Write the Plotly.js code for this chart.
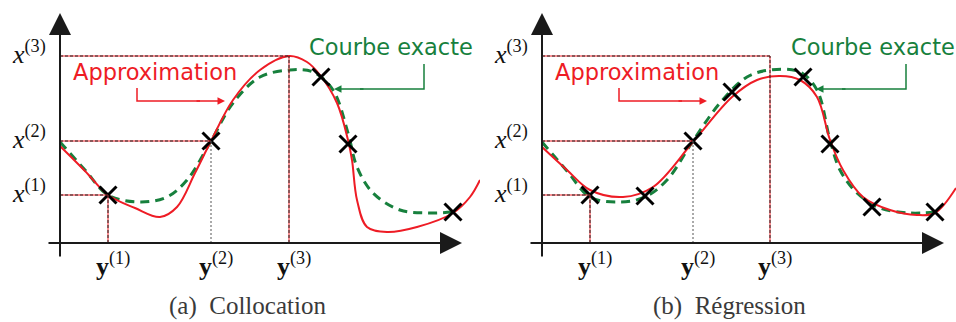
<!DOCTYPE html>
<html>
<head>
<meta charset="utf-8">
<script src="https://cdn.plot.ly/plotly-3.0.1.min.js"></script>
<style>
  html, body { margin: 0; padding: 0; background: #fff; }
  #chart { width: 956px; height: 322px; }
</style>
</head>
<body>
<div id="chart"></div>
<script>
window.onload = drawFigure;

// (a) collocation: approximation passes through the sample points
var approxA_x = [0, 25, 48, 75, 100, 117, 135, 151, 173, 200, 229, 247, 260, 277, 288, 292, 297, 307, 327, 357, 393, 410, 420];
var approxA_y = [97, 72, 48, 35, 26, 36, 70, 102, 143, 173, 187, 181, 168, 140, 103, 83, 43, 16, 11, 16, 30, 46, 63];
var exactA_x = [0, 25, 48, 80, 107, 127, 151, 173, 200, 230, 253, 273, 288, 297, 313, 340, 367, 393];
var exactA_y = [101, 73, 48, 41, 46, 63, 102, 140, 166, 173, 171, 153, 110, 76, 50, 33, 30, 31];
var samplesA_x = [48, 151, 261, 288, 393];
var samplesA_y = [48, 102, 166, 99, 31];

// (b) regression: least squares fit through more points
var approxB_x = [0, 25, 48, 81, 111, 151, 190, 215, 238, 258, 275, 288, 301, 321, 348, 375, 393, 414];
var approxB_y = [96, 73, 53, 46, 56, 101, 146, 163, 167, 163, 146, 103, 73, 46, 33, 28, 30, 55];
var exactB_x = [0, 25, 48, 78, 103, 125, 151, 178, 205, 228, 258, 275, 288, 298, 315, 338, 368, 393];
var exactB_y = [101, 72, 46, 41, 46, 63, 102, 140, 166, 173, 171, 153, 103, 73, 50, 35, 30, 31];
var samplesB_x = [48, 103, 151, 190, 261, 288, 330, 393];
var samplesB_y = [48, 47, 102, 151, 166, 99, 36, 31];

// levels x(k) and abscissae y(k)
var levels = [48, 102, 187];
var abscA = [48, 151, 229];
var abscB = [48, 151, 228];
var levelLabels = ['<i>x</i><sup>(1)</sup>', '<i>x</i><sup>(2)</sup>', '<i>x</i><sup>(3)</sup>'];
var abscLabels = ['<b>y</b><sup>(1)</sup>', '<b>y</b><sup>(2)</sup>', '<b>y</b><sup>(3)</sup>'];
var captions = ['(a)  Collocation', '(b)  Régression'];

function drawFigure() {

    const RED = '#ee1c25';
    const GREEN = '#17803d';
    const AXIS = '#1a1a1a';
    const SERIF = 'Liberation Serif, DejaVu Serif, serif';
    const SANS = 'DejaVu Sans, sans-serif';

    var panels = [
        {xa: 'x', ax: approxA_x, ay: approxA_y, ex: exactA_x, ey: exactA_y, sx: samplesA_x, sy: samplesA_y, absc: abscA, cap: captions[0]},
        {xa: 'x2', ax: approxB_x, ay: approxB_y, ex: exactB_x, ey: exactB_y, sx: samplesB_x, sy: samplesB_y, absc: abscB, cap: captions[1]}
    ];

    var data = [];
    var shapes = [];
    var annotations = [];

    panels.forEach(function (p) {
        var xref = p.xa;

        // dashed guides from axes to each (y(k), x(k))
        for (var k = 0; k < 3; k++) {
            var red = k !== 1;
            shapes.push({type: 'line', xref: xref, yref: 'y', x0: 0, x1: p.absc[k], y0: levels[k], y1: levels[k],
                line: {color: RED, width: 1}});
            shapes.push({type: 'line', xref: xref, yref: 'y', x0: 0, x1: p.absc[k], y0: levels[k], y1: levels[k],
                line: {color: '#222', width: 1, dash: '3px,2px'}});
            if (red) {
                shapes.push({type: 'line', xref: xref, yref: 'y', x0: p.absc[k], x1: p.absc[k], y0: 0, y1: levels[k],
                    line: {color: RED, width: 1}});
            }
            shapes.push({type: 'line', xref: xref, yref: 'y', x0: p.absc[k], x1: p.absc[k], y0: 0, y1: levels[k],
                line: {color: red ? '#222' : '#555', width: 1, dash: red ? '3px,2px' : '2px,2px'}});

            annotations.push({xref: xref, yref: 'y', x: -31, y: levels[k] + 4, text: levelLabels[k],
                showarrow: false, font: {family: SERIF, size: 26, color: '#111'}});
            annotations.push({xref: xref, yref: 'y', x: p.absc[k] + 5, y: -21, text: abscLabels[k],
                showarrow: false, font: {family: SERIF, size: 26, color: '#111'}});
        }

        data.push({x: p.ex, y: p.ey, xaxis: xref, yaxis: 'y', mode: 'lines', hoverinfo: 'skip',
            line: {color: GREEN, width: 3, dash: '9px,6px', shape: 'spline', smoothing: 1}});
        data.push({x: p.ax, y: p.ay, xaxis: xref, yaxis: 'y', mode: 'lines', hoverinfo: 'skip',
            line: {color: RED, width: 2, shape: 'spline', smoothing: 1}});
        data.push({x: p.sx, y: p.sy, xaxis: xref, yaxis: 'y', mode: 'markers', hoverinfo: 'skip',
            marker: {symbol: 'x-thin', size: 17, line: {color: '#000', width: 3}}});

        // axes with arrow tips
        annotations.push({xref: xref, yref: 'y', axref: xref, ayref: 'y', x: 402, y: 0, ax: -13, ay: 0, text: '',
            showarrow: true, arrowhead: 2, arrowsize: 2.2, arrowwidth: 2, arrowcolor: AXIS});
        annotations.push({xref: xref, yref: 'y', axref: xref, ayref: 'y', x: 0, y: 230, ax: 0, ay: -15, text: '',
            showarrow: true, arrowhead: 2, arrowsize: 2.2, arrowwidth: 2, arrowcolor: AXIS});

        // labels with bent pointers
        annotations.push({xref: xref, yref: 'y', x: 95, y: 171, text: 'Approximation', showarrow: false,
            font: {family: SANS, size: 22.5, color: RED}});
        data.push({x: [77, 77, 140], y: [155, 142, 142], xaxis: xref, yaxis: 'y', mode: 'lines', hoverinfo: 'skip',
            line: {color: RED, width: 1.5}});
        annotations.push({xref: xref, yref: 'y', axref: xref, ayref: 'y', x: 165, y: 142, ax: 135, ay: 142, text: '',
            showarrow: true, arrowhead: 2, arrowsize: 1, arrowwidth: 1.5, arrowcolor: RED});

        annotations.push({xref: xref, yref: 'y', x: 331, y: 196, text: 'Courbe exacte', showarrow: false,
            font: {family: SANS, size: 22.5, color: GREEN}});
        data.push({x: [364, 364, 300], y: [179, 154, 154], xaxis: xref, yaxis: 'y', mode: 'lines', hoverinfo: 'skip',
            line: {color: GREEN, width: 1.5}});
        annotations.push({xref: xref, yref: 'y', axref: xref, ayref: 'y', x: 274, y: 154, ax: 305, ay: 154, text: '',
            showarrow: true, arrowhead: 2, arrowsize: 1, arrowwidth: 1.5, arrowcolor: GREEN});

        annotations.push({xref: xref, yref: 'y', x: 187, y: -63, text: p.cap, showarrow: false,
            font: {family: SERIF, size: 25, color: '#3a3a3a'}});
    });

    var hidden = {visible: false, fixedrange: true};

    var layout = {
        width: 956,
        height: 322,
        margin: {l: 0, r: 0, t: 0, b: 0},
        paper_bgcolor: '#fff',
        plot_bgcolor: '#fff',
        showlegend: false,
        xaxis: Object.assign({domain: [0, 480 / 956], range: [-60, 420]}, hidden),
        xaxis2: Object.assign({domain: [480 / 956, 1], range: [-62, 414], anchor: 'y'}, hidden),
        yaxis: Object.assign({domain: [0, 1], range: [-79, 243]}, hidden),
        shapes: shapes,
        annotations: annotations
    };

    Plotly.newPlot('chart', data, layout, {staticPlot: true});
}
</script>
</body>
</html>
